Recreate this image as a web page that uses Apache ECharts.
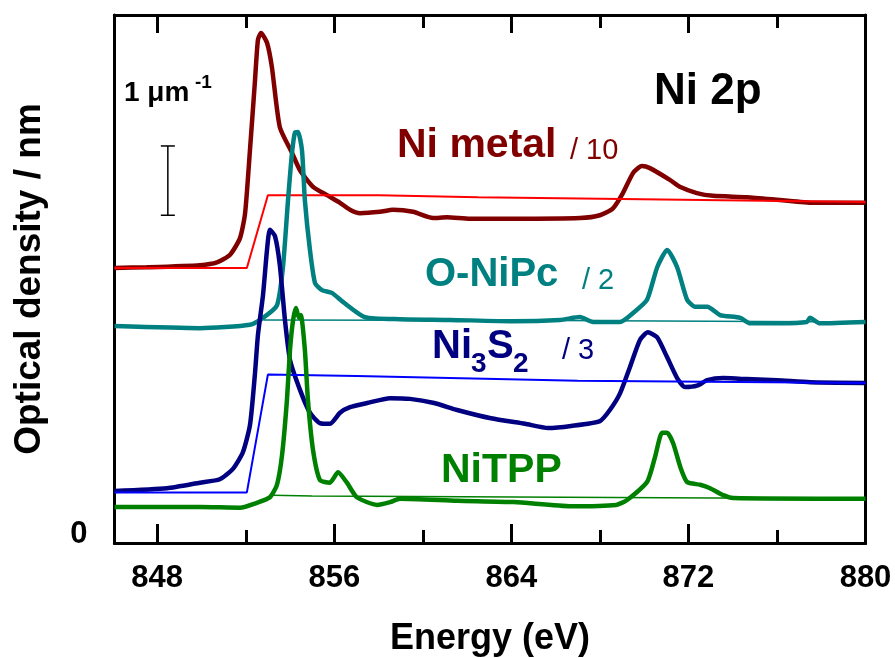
<!DOCTYPE html>
<html>
<head>
<meta charset="utf-8">
<script src="https://cdn.jsdelivr.net/npm/echarts@6/dist/echarts.min.js"></script>
<style>html,body{margin:0;padding:0;background:#fff;}#c{width:895px;height:658px;}</style>
</head>
<body>
<div id="c"></div>
<script>
// Energy (eV) / optical density (um^-1, offset) pairs
const niMetal = [[846.07,3.84],[847.53,3.85],[849.93,3.88],[850.70,3.92],[851.29,4.03],[851.74,4.27],[851.97,4.63],[852.19,5.54],[852.41,6.51],[852.55,7.13],[852.69,7.23],[852.96,7.09],[853.18,6.74],[853.54,5.87],[854.09,5.50],[854.45,5.25],[855.04,5.01],[855.67,4.89],[856.26,4.78],[856.71,4.68],[857.16,4.63],[858.06,4.65],[858.65,4.68],[859.56,4.65],[860.46,4.56],[861.09,4.57],[862.13,4.55],[864.07,4.55],[867.10,4.56],[868.00,4.60],[868.59,4.70],[869.04,4.92],[869.50,5.21],[869.90,5.31],[870.26,5.28],[871.16,5.11],[871.61,5.01],[872.38,4.92],[873.11,4.88],[874.64,4.86],[876.13,4.82],[877.62,4.78],[880.00,4.78]];
const niMetalStep = [[846.07,3.84],[852.05,3.84],[853.0,4.89],[858.0,4.89],[862.5,4.86],[880.0,4.79]];

const oNiPc = [[846.07,3.00],[849.93,2.97],[852.19,3.02],[852.78,3.12],[853.41,3.30],[853.68,3.85],[853.91,4.82],[854.09,5.50],[854.22,5.79],[854.36,5.80],[854.54,5.54],[854.67,4.82],[854.90,4.10],[855.13,3.62],[855.44,3.52],[855.89,3.48],[856.39,3.35],[857.38,3.13],[858.97,3.10],[861.23,3.09],[864.07,3.07],[866.20,3.09],[867.10,3.13],[867.69,3.06],[868.91,3.06],[869.50,3.19],[870.13,3.38],[870.59,3.85],[871.04,4.10],[871.49,3.85],[871.94,3.38],[872.30,3.28],[872.85,3.28],[873.43,3.16],[874.34,3.12],[874.79,3.04],[876.13,3.04],[877.35,3.06],[877.49,3.12],[877.94,3.04],[880.00,3.06]];
const oNiPcBase = [[852.8,3.09],[866.0,3.08],[880.0,3.06]];

const ni3s2 = [[846.07,0.62],[848.44,0.66],[849.93,0.74],[850.83,0.79],[851.42,0.94],[851.87,1.18],[852.19,1.57],[852.41,2.29],[852.55,2.87],[852.78,3.45],[852.96,4.10],[853.09,4.39],[853.32,4.30],[853.54,3.88],[853.77,3.09],[854.00,2.51],[854.45,2.08],[854.90,1.75],[855.35,1.60],[855.80,1.59],[856.26,1.75],[856.71,1.83],[857.48,1.89],[858.52,1.96],[859.42,1.95],[860.51,1.89],[861.55,1.79],[863.08,1.67],[864.62,1.59],[865.66,1.53],[866.70,1.56],[868.00,1.63],[868.45,1.79],[868.91,2.03],[869.36,2.41],[869.81,2.80],[870.17,2.91],[870.58,2.84],[871.04,2.55],[871.49,2.25],[871.85,2.12],[872.39,2.14],[872.85,2.22],[873.57,2.25],[874.34,2.24],[876.01,2.22],[877.50,2.19],[880.00,2.18]];
const ni3s2Step = [[846.07,0.60],[852.05,0.60],[853.0,2.30],[857.0,2.28],[867.0,2.21],[880.0,2.18]];

const niTPP = [[846.07,0.39],[849.93,0.39],[851.74,0.38],[852.50,0.45],[853.09,0.53],[853.41,0.71],[853.64,1.14],[853.86,1.93],[854.00,2.66],[854.14,3.09],[854.27,3.26],[854.40,3.12],[854.49,3.16],[854.67,2.66],[854.81,1.93],[855.04,1.21],[855.35,0.78],[855.80,0.74],[856.17,0.89],[856.57,0.74],[857.02,0.53],[857.93,0.42],[858.52,0.46],[858.97,0.51],[861.55,0.48],[864.12,0.46],[866.70,0.40],[868.73,0.42],[869.23,0.49],[870.13,0.75],[870.49,1.11],[870.81,1.46],[871.04,1.46],[871.31,1.31],[871.63,0.97],[871.94,0.75],[872.53,0.71],[872.98,0.66],[873.57,0.56],[874.02,0.52],[880.00,0.51]];
const niTPPBase = [[853.2,0.56],[855.0,0.55],[880.0,0.51]];

const scaleBar = [[848.48,4.60],[848.48,5.60]];

const majorTicks = [848,856,864,872,880];
const minorTicks = [852,860,868,876];
const yLabelValues = [0];
const xMin = 846.07, xMax = 880, yMin = -0.13, yMax = 7.49;

const FONT = 'Liberation Sans, Arial, sans-serif';
const chart = echarts.init(document.getElementById('c'), null, {renderer:'canvas'});

function xAx(pos, ticks, len, showLabel, extra) {
  return Object.assign({
    type:'value', position:pos, min:xMin, max:xMax, gridIndex:0,
    axisLine:{show:true, onZero:false, lineStyle:{color:'#000', width:3}},
    axisTick:{show:true, inside:true, length:len, customValues:ticks, lineStyle:{color:'#000', width:3}},
    axisLabel:{show:showLabel, customValues:majorTicks, color:'#000', fontFamily:FONT, fontWeight:'bold', fontSize:31, margin:20},
    splitLine:{show:false}
  }, extra||{});
}

const lineS = (data, color, width, z, smooth) => ({
  type:'line', data, xAxisIndex:0, yAxisIndex:0, showSymbol:false, symbol:'none',
  smooth: smooth||false, lineStyle:{color, width}, itemStyle:{color}, z, silent:true, animation:false
});

const txt = (text, x, y, size, weight, color) => ({
  type:'text', x, y, silent:true,
  style:{text, x:0, y:0, fontSize:size, fontWeight:weight, fontFamily:FONT, fill:color, verticalAlign:'middle', align:'left'}
});

chart.setOption({
  animation:false,
  backgroundColor:'#fff',
  grid:{left:114.5, right:29.5, top:15, bottom:115, containLabel:false, outerBoundsMode:'none'},
  xAxis:[
    xAx('bottom', majorTicks, 19, true, {name:'Energy (eV)', nameLocation:'middle', nameGap:78,
      nameTextStyle:{color:'#000', fontFamily:FONT, fontWeight:'bold', fontSize:36}}),
    xAx('bottom', minorTicks, 13, false),
    xAx('top', majorTicks, 18, false),
    xAx('top', minorTicks, 13, false)
  ],
  yAxis:[
    {type:'value', position:'left', min:yMin, max:yMax,
     axisLine:{show:true, onZero:false, lineStyle:{color:'#000', width:3}},
     axisTick:{show:false},
     axisLabel:{show:true, customValues:yLabelValues, color:'#000', fontFamily:FONT, fontWeight:'bold', fontSize:31, margin:27},
     splitLine:{show:false},
     name:'Optical density / nm', nameLocation:'middle', nameGap:66,
     nameTextStyle:{color:'#000', fontFamily:FONT, fontWeight:'bold', fontSize:37}},
    {type:'value', position:'right', min:yMin, max:yMax,
     axisLine:{show:true, onZero:false, lineStyle:{color:'#000', width:3}},
     axisTick:{show:false}, axisLabel:{show:false}, splitLine:{show:false}}
  ],
  series:[
    lineS(niMetal, '#800000', 4.5, 2, 0.2),
    lineS(niMetalStep, '#ff0000', 2, 3),
    lineS(oNiPc, '#008080', 4.5, 4, 0.2),
    lineS(oNiPcBase, '#008080', 1.5, 5),
    lineS(ni3s2, '#000080', 4.5, 6, 0.2),
    lineS(ni3s2Step, '#0000ff', 2, 7),
    lineS(niTPP, '#008000', 4.5, 8, 0.2),
    lineS(niTPPBase, '#008000', 1.5, 9),
    {type:'custom', xAxisIndex:0, yAxisIndex:0, data:[0], silent:true, z:10,
     renderItem:(params, api) => {
       const p0 = api.coord(scaleBar[0]);
       const p1 = api.coord(scaleBar[1]);
       const s = {stroke:'#000', lineWidth:1.5};
       return {type:'group', children:[
         {type:'line', shape:{x1:p0[0], y1:p0[1], x2:p1[0], y2:p1[1]}, style:s},
         {type:'line', shape:{x1:p0[0]-7, y1:p0[1], x2:p0[0]+7, y2:p0[1]}, style:s},
         {type:'line', shape:{x1:p1[0]-7, y1:p1[1], x2:p1[0]+7, y2:p1[1]}, style:s}
       ]};
     }}
  ],
  graphic:[
    txt('1 \u03bcm', 124, 93, 28, 'bold', '#000'),
    txt('-1', 195, 83, 19, 'bold', '#000'),
    txt('Ni 2p', 654, 92, 44, 'bold', '#000'),
    txt('Ni metal', 397, 146, 41, 'bold', '#800000'),
    txt('/ 10', 570, 151, 29, 'normal', '#800000'),
    txt('O-NiPc', 425, 275, 40, 'bold', '#008080'),
    txt('/ 2', 582, 281, 29, 'normal', '#008080'),
    txt('Ni', 432, 347, 40, 'bold', '#000080'),
    txt('3', 471, 364, 28, 'bold', '#000080'),
    txt('S', 487, 347, 40, 'bold', '#000080'),
    txt('2', 513, 364, 28, 'bold', '#000080'),
    txt('/ 3', 562, 351, 29, 'normal', '#000080'),
    txt('NiTPP', 441, 471, 41, 'bold', '#008000')
  ]
});
</script>
</body>
</html>
